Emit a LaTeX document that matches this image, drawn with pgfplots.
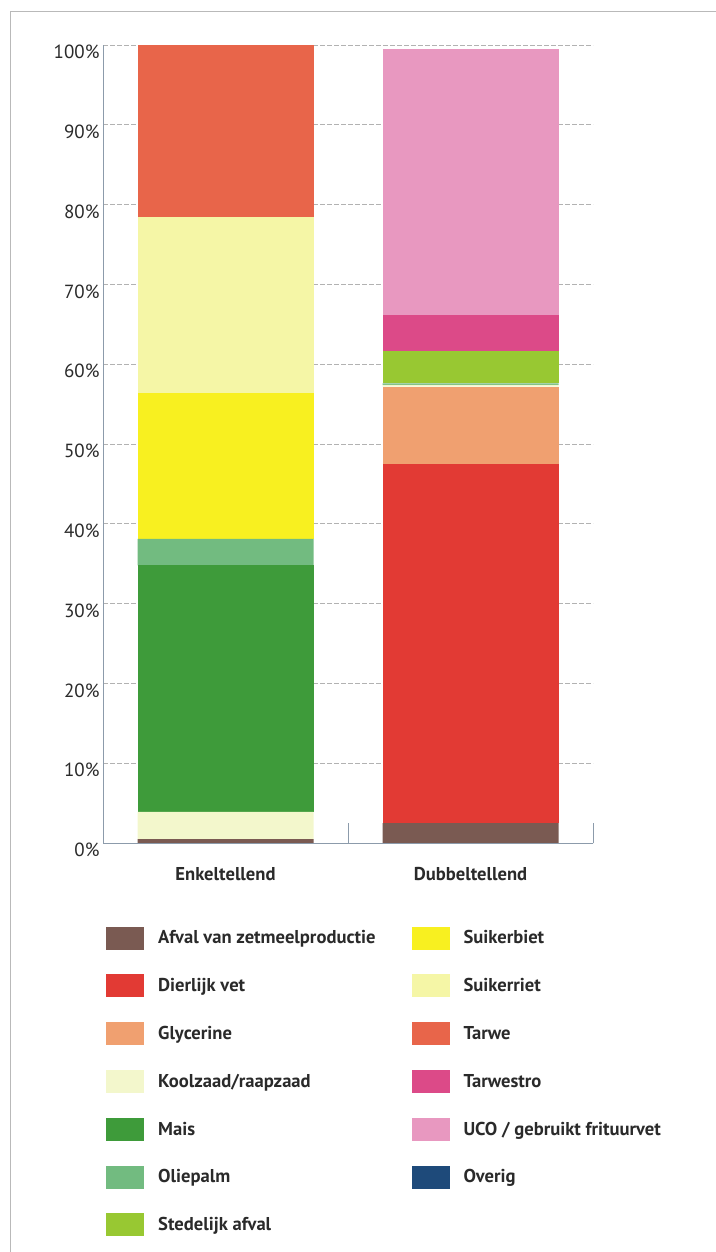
\documentclass[border=0pt]{standalone}
\usepackage{pgfplots}
\usepackage{pgfplotstable}
\pgfplotsset{compat=1.18}
\usepackage{fontspec}
\setmainfont{PT Sans}
\definecolor{cAfval}{HTML}{7A5A52}
\definecolor{cDier}{HTML}{E23A34}
\definecolor{cGly}{HTML}{F0A070}
\definecolor{cKool}{HTML}{F3F7CC}
\definecolor{cMais}{HTML}{3E9B3A}
\definecolor{cOlie}{HTML}{72BB80}
\definecolor{cSted}{HTML}{98C832}
\definecolor{cSbiet}{HTML}{F8F020}
\definecolor{cSriet}{HTML}{F5F6A6}
\definecolor{cTarwe}{HTML}{E8654A}
\definecolor{cTstro}{HTML}{DC4A88}
\definecolor{cUCO}{HTML}{E898C0}
\definecolor{cOverig}{HTML}{1E4A7A}
\definecolor{axcol}{HTML}{8C9BAB}
\definecolor{txt}{HTML}{2A2A2A}
\newcommand\fnt{\fontsize{19bp}{22bp}\selectfont}
\newcommand\bfnt{\fontsize{18.6bp}{21bp}\selectfont\bfseries}
\pgfplotstableread{
x afval dierlijk glycerine koolzaad mais oliepalm stedelijk suikerbiet suikerriet tarwe tarwestro uco overig
0 0.5 0    0   3.4 30.9 3.3 0   18.3 22.0 21.6 0   0    0
1 2.5 45.0 9.7 0.2 0    0.2 4.0 0    0    0    4.6 33.3 0
}\datatable
\pgfplotsset{sw/.style={draw=none, legend image code/.code={\fill[##1] (0bp,-11.5bp) rectangle (38bp,11.5bp);}}}
\begin{document}
\begin{tikzpicture}
\draw[gray!55, line width=0.9bp] (10bp,0bp) -- (10bp,1241bp) -- (716bp,1241bp);
\begin{axis}[
  at={(103bp,409bp)}, anchor=south west,
  scale only axis, width=490bp, height=798bp,
  ybar stacked, bar width=176bp,
  xmin=-0.5, xmax=1.5, ymin=0, ymax=100,
  axis x line*=bottom, axis y line*=left,
  axis line style={axcol, line width=0.9bp},
  xtick={0,1}, xticklabels={Enkeltellend,Dubbeltellend},
  minor xtick={-0.5,0.5,1.5},
  major tick length=0pt, minor tick length=20bp,
  tick align=inside,
  minor tick style={axcol, line width=0.9bp},
  ytick={0,10,...,100},
  yticklabels={0\%,10\%,20\%,30\%,40\%,50\%,60\%,70\%,80\%,90\%,100\%},
  ymajorgrids,
  major grid style={gray!60, line width=0.6bp, dash pattern=on 5bp off 2bp},
  tick label style={text=txt},
  yticklabel style={font=\fnt, yshift=-7bp, xshift=0bp},
  xticklabel style={font=\bfnt, yshift=-21bp},
  legend style={draw=none, fill=none, font=\bfnt, text=txt,
    at={(0.0,-0.102)}, anchor=north west,
    legend columns=2, row sep=24.8bp,
    /tikz/every odd column/.append style={column sep=12bp},
    /tikz/every even column/.append style={column sep=34bp}},
  legend cell align=left,
]
\addplot[forget plot, fill=cAfval, draw=none] table[x=x, y=afval] \datatable;
\addplot[forget plot, fill=cDier, draw=none] table[x=x, y=dierlijk] \datatable;
\addplot[forget plot, fill=cGly, draw=none] table[x=x, y=glycerine] \datatable;
\addplot[forget plot, fill=cKool, draw=none] table[x=x, y=koolzaad] \datatable;
\addplot[forget plot, fill=cMais, draw=none] table[x=x, y=mais] \datatable;
\addplot[forget plot, fill=cOlie, draw=none] table[x=x, y=oliepalm] \datatable;
\addplot[forget plot, fill=cSted, draw=none] table[x=x, y=stedelijk] \datatable;
\addplot[forget plot, fill=cSbiet, draw=none] table[x=x, y=suikerbiet] \datatable;
\addplot[forget plot, fill=cSriet, draw=none] table[x=x, y=suikerriet] \datatable;
\addplot[forget plot, fill=cTarwe, draw=none] table[x=x, y=tarwe] \datatable;
\addplot[forget plot, fill=cTstro, draw=none] table[x=x, y=tarwestro] \datatable;
\addplot[forget plot, fill=cUCO, draw=none] table[x=x, y=uco] \datatable;
\addplot[forget plot, fill=cOverig, draw=none] table[x=x, y=overig] \datatable;
\addlegendimage{sw, fill=cAfval}\addlegendentry{Afval van zetmeelproductie}
\addlegendimage{sw, fill=cSbiet}\addlegendentry{Suikerbiet}
\addlegendimage{sw, fill=cDier}\addlegendentry{Dierlijk vet}
\addlegendimage{sw, fill=cSriet}\addlegendentry{Suikerriet}
\addlegendimage{sw, fill=cGly}\addlegendentry{Glycerine}
\addlegendimage{sw, fill=cTarwe}\addlegendentry{Tarwe}
\addlegendimage{sw, fill=cKool}\addlegendentry{Koolzaad/raapzaad}
\addlegendimage{sw, fill=cTstro}\addlegendentry{Tarwestro}
\addlegendimage{sw, fill=cMais}\addlegendentry{Mais}
\addlegendimage{sw, fill=cUCO}\addlegendentry{UCO / gebruikt frituurvet}
\addlegendimage{sw, fill=cOlie}\addlegendentry{Oliepalm}
\addlegendimage{sw, fill=cOverig}\addlegendentry{Overig}
\addlegendimage{sw, fill=cSted}\addlegendentry{Stedelijk afval}
\end{axis}
\pgfresetboundingbox
\useasboundingbox (0,0) rectangle (716bp,1252bp);
\end{tikzpicture}
\end{document}
